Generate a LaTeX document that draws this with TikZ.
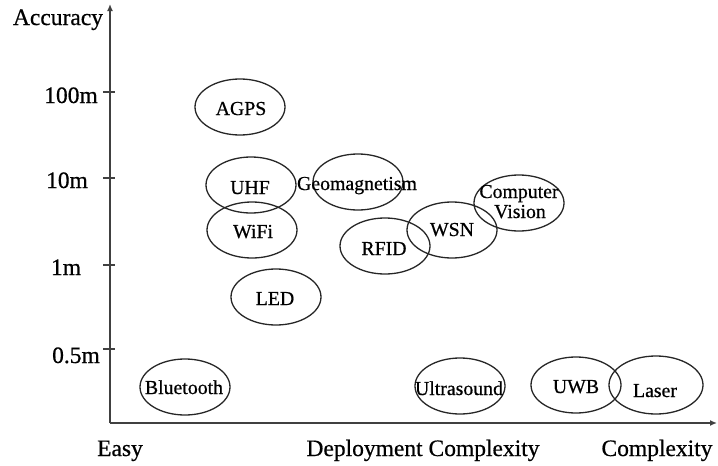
\documentclass[tikz,border=0pt]{standalone}
\usepackage{fontspec}
\setmainfont{Liberation Serif}[FakeBold=0.6]
\usetikzlibrary{shapes.geometric,arrows.meta}
\tikzset{
  blob/.style={draw=black!85, line width=1.3pt, ellipse, minimum width=90, minimum height=56, inner sep=0pt},
  lab/.style={anchor=base, inner sep=0pt, font=\fontsize{19.8}{22}\selectfont, text=black},
  axlab/.style={anchor=base, inner sep=0pt, font=\fontsize{23.5}{26}\selectfont, text=black},
  axis/.style={draw=black!75, line width=2.2pt},
  tick/.style={draw=black!75, line width=1.6pt}
}
\begin{document}
\begin{tikzpicture}[x=1pt,y=-1pt]
\useasboundingbox (0,0) rectangle (718,466);
% axes
\coordinate (o) at (110,423);
\coordinate (ytop) at (110,4);
\coordinate (xend) at (717,423);
\draw[axis,-{Latex[length=7pt,width=6pt]}] (o) -- (ytop);
\draw[axis,-{Latex[length=7pt,width=6pt]}] (o) -- (xend);
% ticks
\foreach \y/\n in {92/t1,178/t2,265/t3,349/t4}{
  \coordinate (\n a) at (103,\y); \coordinate (\n b) at (115,\y);
  \draw[tick] (\n a) -- (\n b);
}
% axis labels
\node[axlab] (acc) at (58,25) {Accuracy};
\node[axlab] (l100) at (71,103) {100m};
\node[axlab] (l10) at (67,188) {10m};
\node[axlab] (l1) at (66,275) {1m};
\node[axlab] (l05) at (76,363) {0.5m};
\node[axlab] (easy) at (120,456) {Easy};
\node[axlab] (dep) at (423,456) {Deployment Complexity};
\node[axlab] (cx) at (657,456) {Complexity};
% ellipses
\node[blob] (agps) at (240,107) {};
\node[blob] (uhf) at (251,185) {};
\node[blob] (geo) at (358,182) {};
\node[blob] (wifi) at (252,230) {};
\node[blob] (rfid) at (385,246) {};
\node[blob] (led) at (276,297) {};
\node[blob] (wsn) at (452,230) {};
\node[blob] (cv) at (519,203) {};
\node[blob] (bt) at (185,387) {};
\node[blob] (us) at (460,386) {};
\node[blob] (uwb) at (576,385) {};
\node[blob, minimum width=94, minimum height=58] (laser) at (656,385) {};
% labels
\node[lab] (tagps) at (241,115) {AGPS};
\node[lab] (tuhf) at (250,194) {UHF};
\node[lab] (tgeo) at (357,190) {Geomagnetism};
\node[lab] (twifi) at (253,238) {WiFi};
\node[lab] (trfid) at (384,255) {RFID};
\node[lab] (tled) at (275,305) {LED};
\node[lab] (twsn) at (452,236) {WSN};
\node[lab] (tcv1) at (519,198) {Computer};
\node[lab] (tcv2) at (520,218) {Vision};
\node[lab] (tbt) at (184,394) {Bluetooth};
\node[lab] (tus) at (459,395) {Ultrasound};
\node[lab] (tuwb) at (576,393) {UWB};
\node[lab] (tlaser) at (655,397) {Laser};
\end{tikzpicture}
\end{document}
